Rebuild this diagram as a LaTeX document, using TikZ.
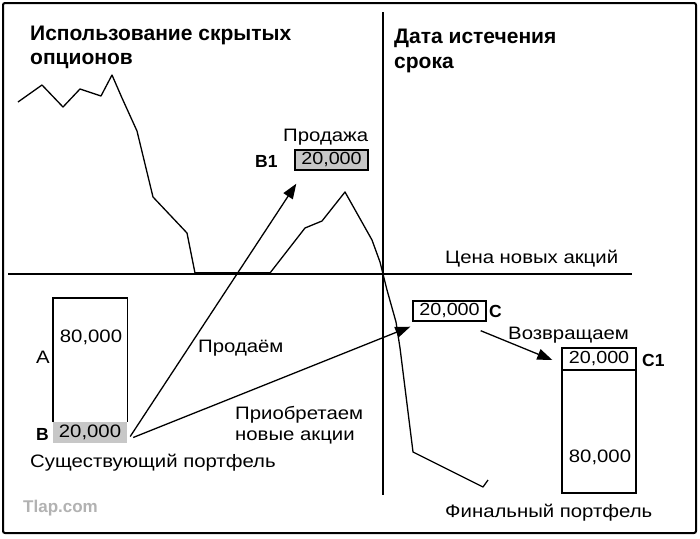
\documentclass[tikz,border=0pt]{standalone}
\usepackage{fontspec}
\usetikzlibrary{arrows.meta}
\newfontfamily\bodyf[FakeStretch=1.13]{Liberation Sans}
\newfontfamily\headf{Liberation Sans}
\tikzset{
  body/.style={inner sep=0pt, font=\bodyf\fontsize{18}{21}\selectfont},
  head/.style={inner sep=0pt, anchor=base west, font=\headf\bfseries\fontsize{21}{24}\selectfont},
  tag/.style={inner sep=0pt, anchor=base west, font=\headf\bfseries\fontsize{17.5}{19}\selectfont},
  numbox/.style={draw, line width=1.4pt, inner sep=0pt, font=\bodyf\fontsize{17.5}{20}\selectfont},
  arr/.style={line width=1.3pt, -{Triangle[length=15pt,width=11pt]}},
  frame/.style={line width=1.6pt},
}
\begin{document}
\begin{tikzpicture}[x=1pt,y=-1pt]
\useasboundingbox (0,0) rectangle (700,538);
\fill[white] (0,0) rectangle (700,538);
\draw[line width=2pt, rounded corners=2pt] (3,3) rectangle (696,533);
% dividers
\draw[frame] (383,12) -- (383,495);
\draw[line width=1.2pt] (8,274) -- (632,274);
% price curve
\draw[line width=1.3pt, line join=round]
  (18,102) -- (42,85) -- (63,107) -- (80,89) -- (101,96) -- (112,75)
  -- (122,98) -- (137,131) -- (153,197) -- (187,233) -- (195,273)
  -- (270,273) -- (305,228) -- (322,221) -- (345,192) -- (372,240)
  -- (380,262) -- (387,290) -- (396,322) -- (400,348) -- (413,452)
  -- (483,487) -- (488,480);
\draw[line width=3pt] (195,273) -- (270,273);
% titles
\node[head] (t1) at (30,40) {Использование скрытых};
\node[head] (t2) at (30,64) {опционов};
\node[head] (t3) at (394,43) {Дата истечения};
\node[head] (t4) at (394,68) {срока};
% existing portfolio
\node[inner sep=0pt, minimum width=74pt, minimum height=124pt] (pa) at (90,360) {};
\draw[line width=1.4pt] (pa.south west) |- (pa.north east) -- (pa.south east);
\node[inner sep=0pt, minimum width=74pt, minimum height=21pt, fill=black!22,
      font=\bodyf\fontsize{18}{21}\selectfont] (pb) at (90,432.5) {20,000};
\node[body, anchor=base] (pan) at (91,342) {80,000};
\node[body, anchor=base west] (la) at (36,363) {A};
\node[tag, anchor=base west] (lb) at (36,440) {B};
\node[body, anchor=base west] (exist) at (30,467) {Существующий портфель};
% sale
\node[numbox, fill=black!22, minimum width=73pt, minimum height=20pt] (b1) at (331.5,160) {20,000};
\node[tag] (lb1) at (255,167) {B1};
\node[body, anchor=base west] (sale) at (283,141) {Продажа};
\node[body, anchor=base west] (sell) at (198,352) {Продаём};
\node[body, anchor=base west] (buy1) at (235,419) {Приобретаем};
\node[body, anchor=base west] (buy2) at (235,440) {новые акции};
\node[body, anchor=base west] (price) at (445,263) {Цена новых акций};
% C
\node[numbox, fill=white, minimum width=73pt, minimum height=20pt] (c) at (449.5,311) {20,000};
\node[tag] (lc) at (489,317) {C};
\node[body, anchor=base west] (ret) at (508,339) {Возвращаем};
% final portfolio
\node[numbox, fill=white, minimum width=74pt, minimum height=22pt] (c1t) at (599,359) {20,000};
\node[draw, line width=1.4pt, inner sep=0pt, minimum width=74pt, minimum height=123pt] (c1b) at (599,431.5) {};
\node[body, anchor=base] (c1n) at (600,462) {80,000};
\node[tag] (lc1) at (642,366) {C1};
\node[body, anchor=base west] (final) at (445,517) {Финальный портфель};
% watermark
\node[inner sep=0pt, anchor=base west, text=black!30, font=\headf\bfseries\fontsize{17}{19}\selectfont] (wm) at (23,512) {Tlap.com};
% arrows
\coordinate (s1) at ([xshift=3pt,yshift=-4pt]pb.east);
\coordinate (s2) at ([xshift=6pt,yshift=-5pt]pb.east);
\coordinate (tb1) at ([xshift=2pt,yshift=-13pt]b1.south west);
\coordinate (tc) at ([xshift=-2pt,yshift=-5pt]c.south west);
\coordinate (s3) at ([xshift=-6pt,yshift=-9pt]c.south east);
\coordinate (tc1) at ([xshift=-9pt,yshift=-1pt]c1t.west);
\draw[arr] (s1) -- (tb1);
\draw[arr] (s2) -- (tc);
\draw[arr] (s3) -- (tc1);
\end{tikzpicture}
\end{document}
